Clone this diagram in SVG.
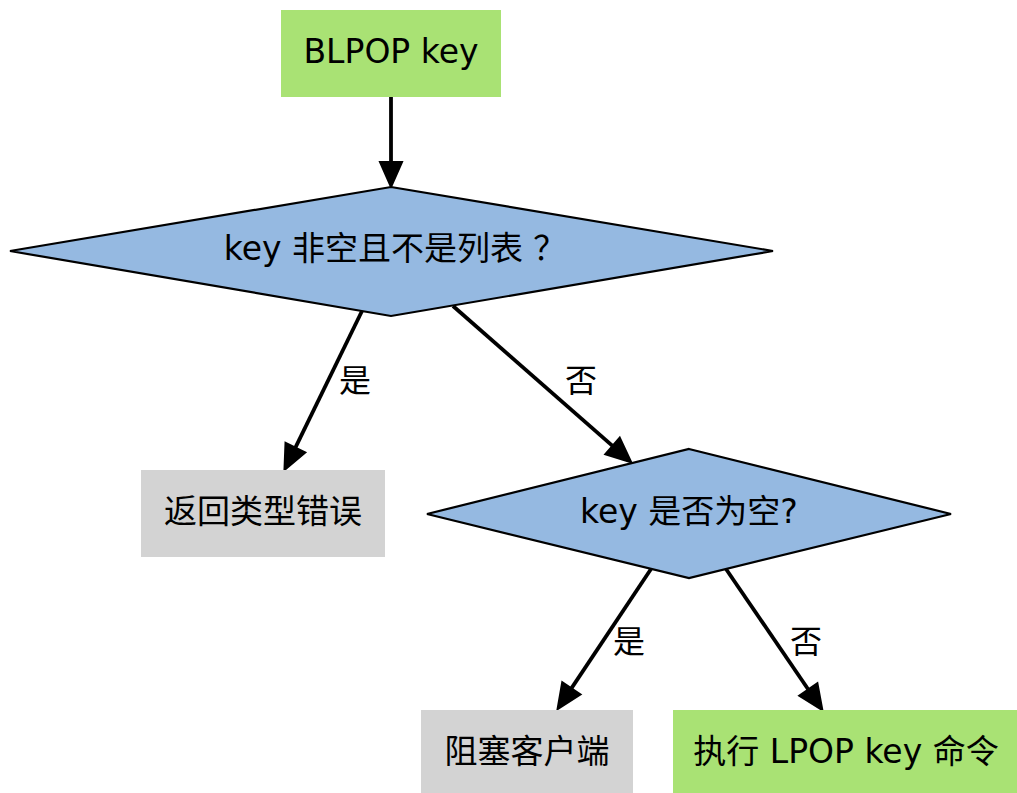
<svg xmlns="http://www.w3.org/2000/svg" width="1017" height="793" viewBox="0 0 1017 793">
<style>
  text { font-family: "DejaVu Sans", "Noto Sans CJK SC", sans-serif; fill: #000; text-anchor: middle; }
  .cjk { font-family: "Noto Sans CJK SC", sans-serif; }
  .node { font-size: 33px; }
  .lbl { font-size: 32px; }
  .green { fill: #a9e274; }
  .gray { fill: #d3d3d3; }
  .blue { fill: #95b9e1; stroke: #000; stroke-width: 2.2; }
  .edge { stroke: #000; stroke-width: 3.8; fill: none; }
</style>
<defs>
  <marker id="arrow" markerUnits="userSpaceOnUse" markerWidth="30" markerHeight="26" refX="0" refY="12" orient="auto" overflow="visible">
    <path d="M0,1 L25,12 L0,23 Z" fill="#000" stroke="#000" stroke-width="2" stroke-linejoin="miter"/>
  </marker>
</defs>
<g id="edges">
  <line class="edge" x1="391" y1="97" x2="391" y2="162" marker-end="url(#arrow)"/>
  <line class="edge" x1="362" y1="311" x2="295.4" y2="447.6" marker-end="url(#arrow)"/>
  <line class="edge" x1="453" y1="306" x2="612.5" y2="445.9" marker-end="url(#arrow)"/>
  <line class="edge" x1="651" y1="569" x2="571.4" y2="688.4" marker-end="url(#arrow)"/>
  <line class="edge" x1="726" y1="569" x2="808.3" y2="689.5" marker-end="url(#arrow)"/>
  <text class="lbl" x="355" y="392">是</text>
  <text class="lbl" x="581" y="392">否</text>
  <text class="lbl" x="629" y="653">是</text>
  <text class="lbl" x="806" y="653">否</text>
</g>
<g id="n_blpop">
  <rect class="green" x="281" y="10" width="220" height="87"/>
  <text class="node" x="391" y="63">BLPOP key</text>
</g>
<g id="n_check_type">
  <polygon class="blue" points="391,187 773,251 391,316 10,251"/>
  <text class="node" x="395" y="260">key 非空且不是列表<tspan class="cjk" dx="10">？</tspan></text>
</g>
<g id="n_type_error">
  <rect class="gray" x="141" y="470" width="244" height="87"/>
  <text class="node" x="263" y="523">返回类型错误</text>
</g>
<g id="n_check_empty">
  <polygon class="blue" points="689,449 951,514 689,578 427,514"/>
  <text class="node" x="689" y="523">key 是否为空?</text>
</g>
<g id="n_block">
  <rect class="gray" x="421" y="710" width="212" height="87"/>
  <text class="node" x="527" y="763">阻塞客户端</text>
</g>
<g id="n_lpop">
  <rect class="green" x="673" y="710" width="344" height="87"/>
  <text class="node" x="846" y="763">执行 LPOP key 命令</text>
</g>
</svg>
